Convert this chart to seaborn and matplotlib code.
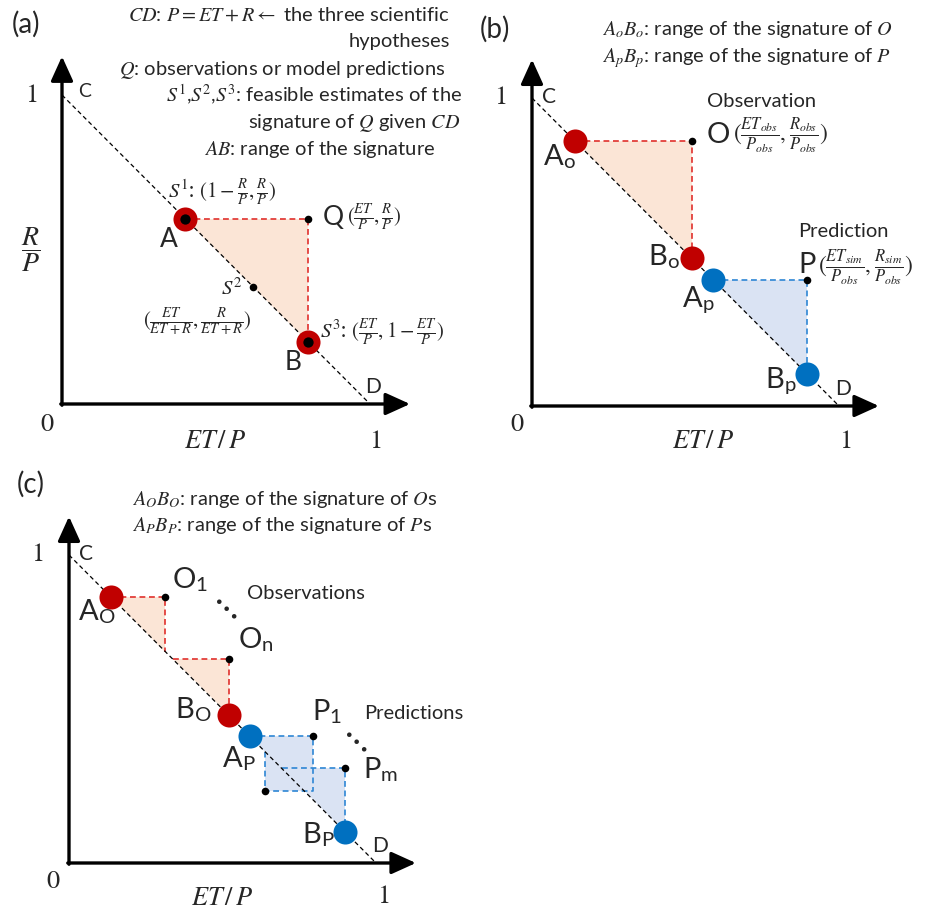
import matplotlib
matplotlib.use("Agg")
import matplotlib.pyplot as plt
import seaborn as sns
import pandas as pd

# ---------------- data (unit-square coordinates of the sketch) ----------------
cd_x = [0.0, 1.0]          # the line CD : ET/P + R/P = 1
cd_y = [1.0, 0.0]

# panel (a): the point Q and the middle estimate S2
a_q = [0.80, 0.60]
a_s2 = [0.62, 0.38]

# panel (b): observation O and prediction P
b_obs = [0.52, 0.86]
b_pred = [0.896, 0.41]

# panel (c): observations O1..On and predictions P1, (extra), Pm
c_obs_x = [0.314, 0.521]
c_obs_y = [0.863, 0.662]
c_pred_x = [0.794, 0.638, 0.899]
c_pred_y = [0.412, 0.235, 0.307]

# ---------------- style ----------------
W, H = 929, 913
sns.set_theme(style="white")
plt.rcParams["font.family"] = ["Lato", "DejaVu Sans"]
plt.rcParams["mathtext.fontset"] = "stix"

RED_DOT, RED_LINE, RED_FILL = "#C00000", "#E0302C", "#FBE5D6"
BLUE_DOT, BLUE_LINE, BLUE_FILL = "#0070C0", "#2E86D4", "#DAE3F3"

TXT = 14.5   # descriptive text
FRM = 15     # formulas
BIG = 21     # point letters
AXL = 19     # axis labels / 0 / 1

fig = plt.figure(figsize=(W / 100, H / 100), dpi=100)
fig.patch.set_facecolor("white")


def make_ax(x0, x1, y0, y1):
    ax = fig.add_axes([x0 / W, 1 - y0 / H, (x1 - x0) / W, (y0 - y1) / H])
    ax.set_xlim(0, 1)
    ax.set_ylim(0, 1)
    ax.axis("off")
    return ax


def ftext(px, py, s, size, ha="left", va="baseline", **kw):
    fig.text(px / W, 1 - py / H, s, fontsize=size, ha=ha, va=va, **kw)


def frame(ax):
    arrow = dict(arrowstyle="-|>,head_length=0.75,head_width=0.34", lw=2.4,
                 color="black", shrinkA=0, shrinkB=0, mutation_scale=20)
    ax.annotate("", xy=(0, 1.125), xytext=(0, -0.004), arrowprops=arrow,
                annotation_clip=False)
    ax.annotate("", xy=(1.13, 0), xytext=(-0.004, 0), arrowprops=arrow,
                annotation_clip=False)
    ax.plot(cd_x, cd_y, color="black", lw=0.9, ls=(0, (3.5, 2.5)),
            clip_on=False, zorder=3)


def dashed(ax, xs, ys, color):
    ax.plot(xs, ys, color=color, lw=1.2, ls=(0, (3.5, 2.2)), clip_on=False,
            zorder=2)


def dots(ax, xs, ys, color, size, zorder=5):
    sns.scatterplot(x=xs, y=ys, ax=ax, color=color, s=size, linewidth=0,
                    zorder=zorder, clip_on=False, legend=False)


def ellipsis_dots(px, py):
    ftext(px, py, r"$\ddots$", 26, ha="center", va="center")


# ================= panel (a) =================
axa = make_ax(62, 370, 404, 95)
frame(axa)
qx, qy = a_q
A = (1 - qy, qy)
B = (qx, 1 - qx)
axa.fill([A[0], qx, B[0]], [A[1], qy, B[1]], color=RED_FILL, lw=0, zorder=1)
dashed(axa, [A[0], qx, B[0]], [A[1], qy, B[1]], RED_LINE)
dots(axa, [A[0], B[0]], [A[1], B[1]], RED_DOT, 300)
dots(axa, [A[0], B[0]], [A[1], B[1]], "black", 55, zorder=6)
dots(axa, [qx, a_s2[0]], [qy, a_s2[1]], "black", 30)

ftext(12, 33, "(a)", 20)
ftext(450, 21, r"$CD$: $P = ET + R \leftarrow$ the three scientific", TXT, ha="right")
ftext(450, 47, "hypotheses", TXT, ha="right")
ftext(445, 75, r"$Q$: observations or model predictions", TXT, ha="right")
ftext(462, 102, r"$S^1$,$S^2$,$S^3$: feasible estimates of the", TXT, ha="right")
ftext(460, 128, r"signature of $Q$ given $CD$", TXT, ha="right")
ftext(435, 155, r"$AB$: range of the signature", TXT, ha="right")

ftext(31, 95, "$1$", AXL, ha="center", va="center")
ftext(78, 97, "C", 14)
ftext(31, 250, r"$\dfrac{R}{P}$", 20, ha="center", va="center")
ftext(47, 423, "$0$", AXL, ha="center", va="center")
ftext(215, 440, r"$ET\,/\,P$", AXL, ha="center", va="center")
ftext(375, 440, "$1$", AXL, ha="center", va="center")
ftext(365, 393, "D", 15)
ftext(160, 247, "A", 19)
ftext(323, 225, "Q", 19)
ftext(285, 370, "B", 19)
ftext(168, 197, r"$S^1$: $(1-\frac{R}{P},\frac{R}{P})$", FRM)
ftext(347, 218, r"$(\frac{ET}{P},\frac{R}{P})$", FRM, va="center")
ftext(242, 295, r"$S^2$", FRM, ha="right")
ftext(197, 322, r"$(\frac{ET}{ET+R},\frac{R}{ET+R})$", FRM, ha="center", va="center")
ftext(320, 337, r"$S^3$: $(\frac{ET}{P},1-\frac{ET}{P})$", FRM)

# ================= panel (b) =================
axb = make_ax(532, 839, 406, 98)
frame(axb)
ox, oy = b_obs
px_, py_ = b_pred
Ao, Bo = (1 - oy, oy), (ox, 1 - ox)
Ap, Bp = (1 - py_, py_), (px_, 1 - px_)
axb.fill([Ao[0], ox, Bo[0]], [Ao[1], oy, Bo[1]], color=RED_FILL, lw=0, zorder=1)
axb.fill([Ap[0], px_, Bp[0]], [Ap[1], py_, Bp[1]], color=BLUE_FILL, lw=0, zorder=1)
dashed(axb, [Ao[0], ox, Bo[0]], [Ao[1], oy, Bo[1]], RED_LINE)
dashed(axb, [Ap[0], px_, Bp[0]], [Ap[1], py_, Bp[1]], BLUE_LINE)
dots(axb, [Ao[0], Bo[0]], [Ao[1], Bo[1]], RED_DOT, 300)
dots(axb, [Ap[0], Bp[0]], [Ap[1], Bp[1]], BLUE_DOT, 300)
dots(axb, [ox, px_], [oy, py_], "black", 30)

ftext(480, 38, "(b)", 20)
ftext(602, 35, r"$A_oB_o$: range of the signature of $O$", TXT)
ftext(602, 62, r"$A_pB_p$: range of the signature of $P$", TXT)
ftext(500, 97, "$1$", AXL, ha="center", va="center")
ftext(542, 103, "C", 15)
ftext(707, 107, "Observation", TXT)
ftext(707, 143, "O", BIG)
ftext(733, 135, r"$(\frac{ET_{obs}}{P_{obs}},\frac{R_{obs}}{P_{obs}})$", 17, va="center")
ftext(543, 165, r"A$_\mathregular{o}$", BIG)
ftext(648, 265, r"B$_\mathregular{o}$", BIG)
ftext(682, 307, r"A$_\mathregular{p}$", BIG)
ftext(765, 388, r"B$_\mathregular{p}$", BIG)
ftext(798, 237, "Prediction", TXT)
ftext(798, 273, "P", BIG)
ftext(818, 267, r"$(\frac{ET_{sim}}{P_{obs}},\frac{R_{sim}}{P_{obs}})$", 17, va="center")
ftext(835, 395, "D", 15)
ftext(517, 423, "$0$", AXL, ha="center", va="center")
ftext(703, 440, r"$ET\,/\,P$", AXL, ha="center", va="center")
ftext(845, 440, "$1$", AXL, ha="center", va="center")

# ================= panel (c) =================
axc = make_ax(69, 376, 863, 555)
frame(axc)
# observations: triangles between each O and CD
o1x, onx = c_obs_x
o1y, ony = c_obs_y
AO, BO = (1 - o1y, o1y), (onx, 1 - onx)
t1x = [AO[0], o1x, o1x]
t1y = [AO[1], o1y, 1 - o1x]
t2x = [1 - ony, onx, BO[0]]
t2y = [ony, ony, BO[1]]
for tx, ty in [(t1x, t1y), (t2x, t2y)]:
    axc.fill(tx, ty, color=RED_FILL, lw=0, zorder=1)
    dashed(axc, tx, ty, RED_LINE)

# predictions
p1x, plx, pmx = c_pred_x
p1y, ply, pmy = c_pred_y
AP, BP = (1 - p1y, p1y), (pmx, 1 - pmx)
poly_x = [AP[0], p1x, p1x, plx, plx]
poly_y = [AP[1], p1y, ply, ply, 1 - plx]
axc.fill(poly_x, poly_y, color=BLUE_FILL, lw=0, zorder=1)
dashed(axc, poly_x, poly_y, BLUE_LINE)
tmx = [1 - pmy, pmx, BP[0]]
tmy = [pmy, pmy, BP[1]]
axc.fill(tmx, tmy, color=BLUE_FILL, lw=0, zorder=1)
dashed(axc, tmx, tmy, BLUE_LINE)

dots(axc, [AO[0], BO[0]], [AO[1], BO[1]], RED_DOT, 300)
dots(axc, [AP[0], BP[0]], [AP[1], BP[1]], BLUE_DOT, 300)
dots(axc, c_obs_x + c_pred_x, c_obs_y + c_pred_y, "black", 30)

ftext(17, 493, "(c)", 20)
ftext(132, 505, r"$A_OB_O$: range of the signature of $O$s", TXT)
ftext(132, 531, r"$A_PB_P$: range of the signature of $P$s", TXT)
ftext(37, 553, "$1$", AXL, ha="center", va="center")
ftext(79, 560, "C", 15)
ftext(172, 588, r"O$_\mathregular{1}$", BIG)
ellipsis_dots(223, 608)
ftext(247, 599, "Observations", TXT)
ftext(238, 648, r"O$_\mathregular{n}$", BIG)
ftext(78, 620, r"A$_\mathregular{O}$", BIG)
ftext(175, 718, r"B$_\mathregular{O}$", BIG)
ftext(312, 720, r"P$_\mathregular{1}$", BIG)
ellipsis_dots(353, 741)
ftext(364, 719, "Predictions", TXT)
ftext(222, 767, r"A$_\mathregular{P}$", BIG)
ftext(363, 778, r"P$_\mathregular{m}$", BIG)
ftext(302, 843, r"B$_\mathregular{P}$", BIG)
ftext(372, 852, "D", 15)
ftext(53, 880, "$0$", AXL, ha="center", va="center")
ftext(222, 897, r"$ET\,/\,P$", AXL, ha="center", va="center")
ftext(383, 895, "$1$", AXL, ha="center", va="center")

fig.savefig("out.png", dpi=100, facecolor="white")
